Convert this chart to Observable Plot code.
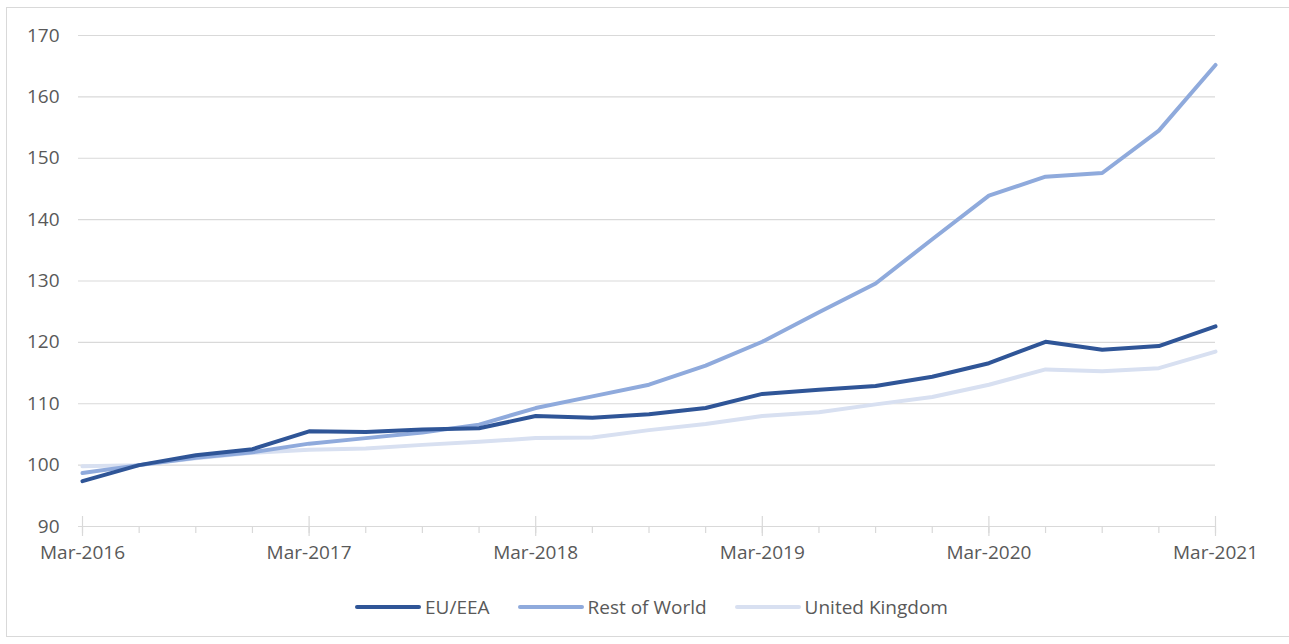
<!DOCTYPE html>
<html>
<head>
<meta charset="utf-8">
<script src="https://cdn.jsdelivr.net/npm/d3@7"></script>
<script src="https://cdn.jsdelivr.net/npm/@observablehq/plot@0.6"></script>
<style>
  html, body { margin: 0; padding: 0; background: #fff; }
  body { width: 1289px; height: 644px; position: relative; overflow: hidden; font-family: "Open Sans", sans-serif; }
  .frame { position: absolute; left: 6px; top: 7px; width: 1300px; height: 630px; border: 1px solid #d9d9d9; box-sizing: border-box; }
  #chart { position: absolute; left: 0; top: 0; }
  .legend { position: absolute; left: 7px; top: 594px; width: 1289px; display: flex; justify-content: center; gap: 28px; font-size: 19px; color: #595959; }
  .legend .item { display: flex; align-items: center; gap: 4px; }
  .legend .sw { display: inline-block; width: 66px; height: 4px; border-radius: 2px; }
</style>
</head>
<body>
<div class="frame"></div>
<div id="chart"></div>
<div class="legend" id="legend"></div>
<script>
// Quarterly index values (Mar-2016 to Mar-2021)
const quarters = [
  "Mar-2016", "Jun-2016", "Sep-2016", "Dec-2016",
  "Mar-2017", "Jun-2017", "Sep-2017", "Dec-2017",
  "Mar-2018", "Jun-2018", "Sep-2018", "Dec-2018",
  "Mar-2019", "Jun-2019", "Sep-2019", "Dec-2019",
  "Mar-2020", "Jun-2020", "Sep-2020", "Dec-2020",
  "Mar-2021"
];
const euEea = [97.4, 100, 101.6, 102.6, 105.5, 105.4, 105.8, 106.0, 108.0, 107.7, 108.3, 109.3, 111.6, 112.3, 112.9, 114.4, 116.6, 120.1, 118.8, 119.4, 122.6];
const restOfWorld = [98.7, 100, 101.2, 102.1, 103.5, 104.4, 105.3, 106.6, 109.3, 111.2, 113.1, 116.2, 120.1, 124.9, 129.6, 136.8, 143.9, 147.0, 147.6, 154.5, 165.2];
const unitedKingdom = [99.8, 100, 101.1, 102.0, 102.5, 102.7, 103.3, 103.8, 104.4, 104.5, 105.7, 106.7, 108.0, 108.6, 109.9, 111.1, 113.1, 115.6, 115.3, 115.8, 118.5];

const seriesNames = ["EU/EEA", "Rest of World", "United Kingdom"];
const seriesColors = ["#2f5597", "#8faadc", "#d8e0f1"];
const yTicks = [90, 100, 110, 120, 130, 140, 150, 160, 170];
const yearLabels = ["Mar-2016", "Mar-2017", "Mar-2018", "Mar-2019", "Mar-2020", "Mar-2021"];

const seriesValues = [euEea, restOfWorld, unitedKingdom];
const rows = seriesNames.flatMap((name, s) =>
  quarters.map((q, i) => ({ series: name, quarter: q, value: seriesValues[s][i] }))
);

const W = 1289, H = 580, mT = 35, mB = 54;
const innerH = H - mT - mB;

const chart = Plot.plot({
  width: W,
  height: H,
  marginLeft: 82,
  marginRight: 74,
  marginTop: mT,
  marginBottom: mB,
  style: { fontFamily: "Open Sans, sans-serif", fontSize: "19px", color: "#595959", background: "transparent" },
  x: { type: "point", domain: quarters, padding: 0, round: false },
  y: { domain: [90, 170] },
  color: { domain: seriesNames, range: seriesColors },
  marks: [
    Plot.ruleY(yTicks, { stroke: "#d9d9d9", strokeWidth: 1.2, insetLeft: -4 }),
    // minor quarter ticks below the axis
    Plot.ruleX(quarters, { x: d => d, stroke: "#d9d9d9", strokeWidth: 1.2, insetTop: innerH, insetBottom: -7 }),
    // yearly ticks crossing the axis
    Plot.ruleX(yearLabels, { x: d => d, stroke: "#d9d9d9", strokeWidth: 1.2, insetTop: innerH - 10, insetBottom: -10 }),
    Plot.axisY({ ticks: yTicks, tickSize: 0, tickPadding: 23, label: null, fill: "#595959" }),
    Plot.axisX({ ticks: yearLabels, tickSize: 0, tickPadding: 19, label: null, fill: "#595959" }),
    // lightest series first so the darker ones sit on top
    Plot.line(rows.filter(d => d.series === "United Kingdom"), { x: "quarter", y: "value", stroke: "series", strokeWidth: 4 }),
    Plot.line(rows.filter(d => d.series === "Rest of World"), { x: "quarter", y: "value", stroke: "series", strokeWidth: 4 }),
    Plot.line(rows.filter(d => d.series === "EU/EEA"), { x: "quarter", y: "value", stroke: "series", strokeWidth: 4 })
  ]
});
document.getElementById("chart").appendChild(chart);

const legend = document.getElementById("legend");
seriesNames.forEach((name, i) => {
  const item = document.createElement("span");
  item.className = "item";
  const sw = document.createElement("span");
  sw.className = "sw";
  sw.style.background = seriesColors[i];
  const label = document.createElement("span");
  label.textContent = name;
  item.appendChild(sw);
  item.appendChild(label);
  legend.appendChild(item);
});
</script>
</body>
</html>
